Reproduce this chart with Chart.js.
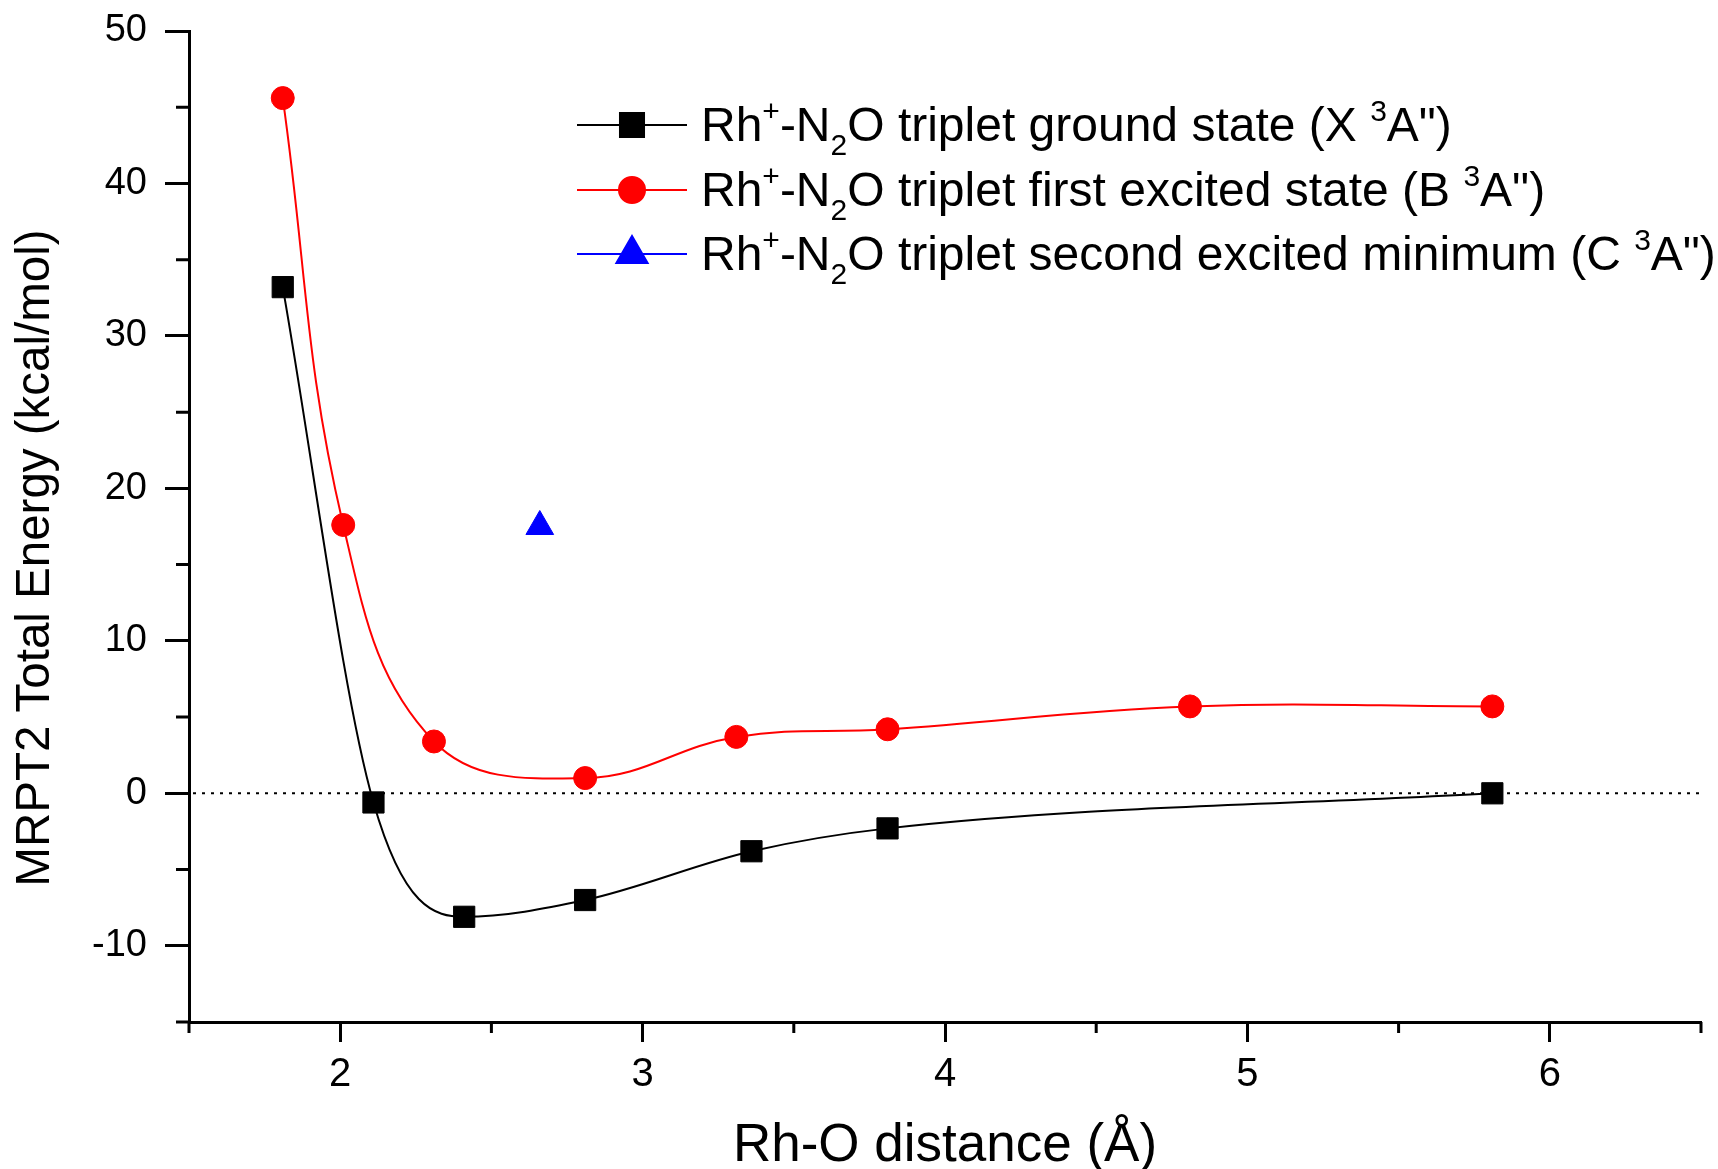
<!DOCTYPE html>
<html>
<head>
<meta charset="utf-8">
<script src="https://cdn.jsdelivr.net/npm/chart.js@4.4.1/dist/chart.umd.min.js"></script>
<style>
  html, body { margin: 0; padding: 0; background: #fff; }
  canvas { display: block; }
</style>
</head>
<body>
<canvas id="pesChart" width="1718" height="1169"></canvas>
<script>
// Rh-O distance (Å) and MRPT2 energies (kcal/mol)
var groundDist = [1.81, 2.11, 2.41, 2.81, 3.36, 3.81, 5.81];
var groundEnergy = [33.2, -0.6, -8.1, -7.0, -3.8, -2.3, 0.0];
var firstDist = [1.81, 2.01, 2.31, 2.81, 3.31, 3.81, 4.81, 5.81];
var firstEnergy = [45.6, 17.6, 3.4, 1.0, 3.7, 4.2, 5.7, 5.7];
var secondDist = [2.66];
var secondEnergy = [17.5];

var seriesLabels = [
  'Rh⁺-N₂O triplet ground state (X ³A")',
  'Rh⁺-N₂O triplet first excited state (B ³A")',
  'Rh⁺-N₂O triplet second excited minimum (C ³A")'
];
var xTitle = 'Rh-O distance (Å)';
var yTitle = 'MRPT2 Total Energy (kcal/mol)';
var xMajorTicks = [2, 3, 4, 5, 6];
var yMajorTicks = [-10, 0, 10, 20, 30, 40, 50];
var xMinorTicks = [1.5, 2.5, 3.5, 4.5, 5.5, 6.5];
var yMinorTicks = [-15, -5, 5, 15, 25, 35, 45];

function toPoints(xs, ys) {
  return xs.map(function (x, i) { return { x: x, y: ys[i] }; });
}
function asTicks(values) {
  return values.map(function (v) { return { value: v }; });
}

var fontFamily = "'Liberation Sans', Arial, Helvetica, sans-serif";
Chart.defaults.font.family = fontFamily;
Chart.defaults.color = '#000';

var supMap = { '⁺': '+', '³': '3' };
var subMap = { '₂': '2' };

// draws a label with super/subscript characters shifted like the original
function drawRichText(ctx, str, x, y, size) {
  var small = Math.round(size * 0.62);
  for (var ch of str) {
    var shift = 0, text = ch, fs = size;
    if (supMap[ch]) { text = supMap[ch]; fs = small; shift = -size * 0.42; }
    else if (subMap[ch]) { text = subMap[ch]; fs = small; shift = size * 0.3; }
    ctx.font = fs + 'px ' + fontFamily;
    ctx.fillText(text, x, y + shift);
    x += ctx.measureText(text).width;
  }
  return x;
}

var originStyle = {
  id: 'originStyle',
  beforeDatasetsDraw: function (chart) {
    var ctx = chart.ctx, area = chart.chartArea;
    var y0 = chart.scales.y.getPixelForValue(0);
    ctx.save();
    ctx.strokeStyle = '#000';
    ctx.lineWidth = 2;
    ctx.setLineDash([3, 6]);
    ctx.beginPath();
    ctx.moveTo(area.left + 4, y0);
    ctx.lineTo(area.right, y0);
    ctx.stroke();
    ctx.restore();
  },
  afterDraw: function (chart) {
    var ctx = chart.ctx, area = chart.chartArea;
    var xs = chart.scales.x, ys = chart.scales.y;
    ctx.save();
    // minor ticks
    ctx.strokeStyle = '#000';
    ctx.lineWidth = 3;
    ctx.beginPath();
    xMinorTicks.forEach(function (v) {
      var px = xs.getPixelForValue(v);
      ctx.moveTo(px, area.bottom);
      ctx.lineTo(px, area.bottom + 11);
    });
    yMinorTicks.forEach(function (v) {
      var py = ys.getPixelForValue(v);
      ctx.moveTo(area.left, py);
      ctx.lineTo(area.left - 13, py);
    });
    ctx.stroke();

    // axis titles
    ctx.fillStyle = '#000';
    ctx.font = '53px ' + fontFamily;
    ctx.textAlign = 'center';
    ctx.textBaseline = 'alphabetic';
    ctx.fillText(xTitle, (area.left + area.right) / 2, 1161);
    ctx.save();
    ctx.translate(36, 558);
    ctx.rotate(-Math.PI / 2);
    ctx.font = '47.5px ' + fontFamily;
    ctx.textBaseline = 'middle';
    ctx.fillText(yTitle, 0, 0);
    ctx.restore();

    // legend
    var rows = [125, 190, 254];
    var markerRadius = [17, 13, 18];
    ctx.textAlign = 'left';
    ctx.textBaseline = 'alphabetic';
    chart.data.datasets.forEach(function (ds, i) {
      var y = rows[i];
      ctx.strokeStyle = ds.borderColor;
      ctx.fillStyle = ds.backgroundColor;
      ctx.lineWidth = 2;
      ctx.beginPath();
      ctx.moveTo(577, y);
      ctx.lineTo(687, y);
      ctx.stroke();
      Chart.helpers.drawPoint(ctx, {
        pointStyle: ds.pointStyle, radius: markerRadius[i], rotation: 0, borderWidth: 1
      }, 632, y);
      ctx.fillStyle = '#000';
      drawRichText(ctx, ds.label, 701, y + 16, 48);
    });
    ctx.restore();
  }
};

var canvas = document.getElementById('pesChart');
var pesChart = new Chart(canvas, {
  type: 'scatter',
  data: {
    datasets: [{
      label: seriesLabels[0],
      data: toPoints(groundDist, groundEnergy),
      showLine: true,
      cubicInterpolationMode: 'monotone',
      borderColor: '#000000',
      backgroundColor: '#000000',
      borderWidth: 2,
      pointStyle: 'rect',
      pointRadius: 15,
      pointBorderWidth: 1
    }, {
      label: seriesLabels[1],
      data: toPoints(firstDist, firstEnergy),
      showLine: true,
      tension: 0.4,
      borderColor: '#ff0000',
      backgroundColor: '#ff0000',
      borderWidth: 2,
      pointStyle: 'circle',
      pointRadius: 11.5,
      pointBorderWidth: 1
    }, {
      label: seriesLabels[2],
      data: toPoints(secondDist, secondEnergy),
      showLine: false,
      borderColor: '#0000ff',
      backgroundColor: '#0000ff',
      borderWidth: 2,
      pointStyle: 'triangle',
      pointRadius: 16,
      pointBorderWidth: 1
    }]
  },
  options: {
    responsive: false,
    animation: false,
    devicePixelRatio: 1,
    layout: { padding: { top: 31, right: 6, left: 0, bottom: 0 } },
    plugins: {
      legend: { display: false },
      tooltip: { enabled: false }
    },
    scales: {
      x: {
        type: 'linear',
        min: 1.5,
        max: 6.5,
        afterBuildTicks: function (scale) { scale.ticks = asTicks(xMajorTicks); },
        afterFit: function (scale) {
          scale.height = 147;
          scale.paddingLeft = 0;
          scale.paddingRight = 0;
        },
        ticks: { padding: 9, font: { size: 40 }, color: '#000' },
        grid: { drawOnChartArea: false, drawTicks: true, tickLength: 20, tickWidth: 3, tickColor: '#000' },
        border: { display: true, width: 3, color: '#000' }
      },
      y: {
        type: 'linear',
        min: -15,
        max: 50,
        afterBuildTicks: function (scale) { scale.ticks = asTicks(yMajorTicks); },
        afterFit: function (scale) {
          scale.width = 189;
          scale.paddingTop = 0;
          scale.paddingBottom = 0;
        },
        ticks: { padding: 18, font: { size: 38 }, color: '#000' },
        grid: { drawOnChartArea: false, drawTicks: true, tickLength: 24, tickWidth: 3, tickColor: '#000' },
        border: { display: true, width: 3, color: '#000' }
      }
    }
  },
  plugins: [originStyle]
});
</script>
</body>
</html>
